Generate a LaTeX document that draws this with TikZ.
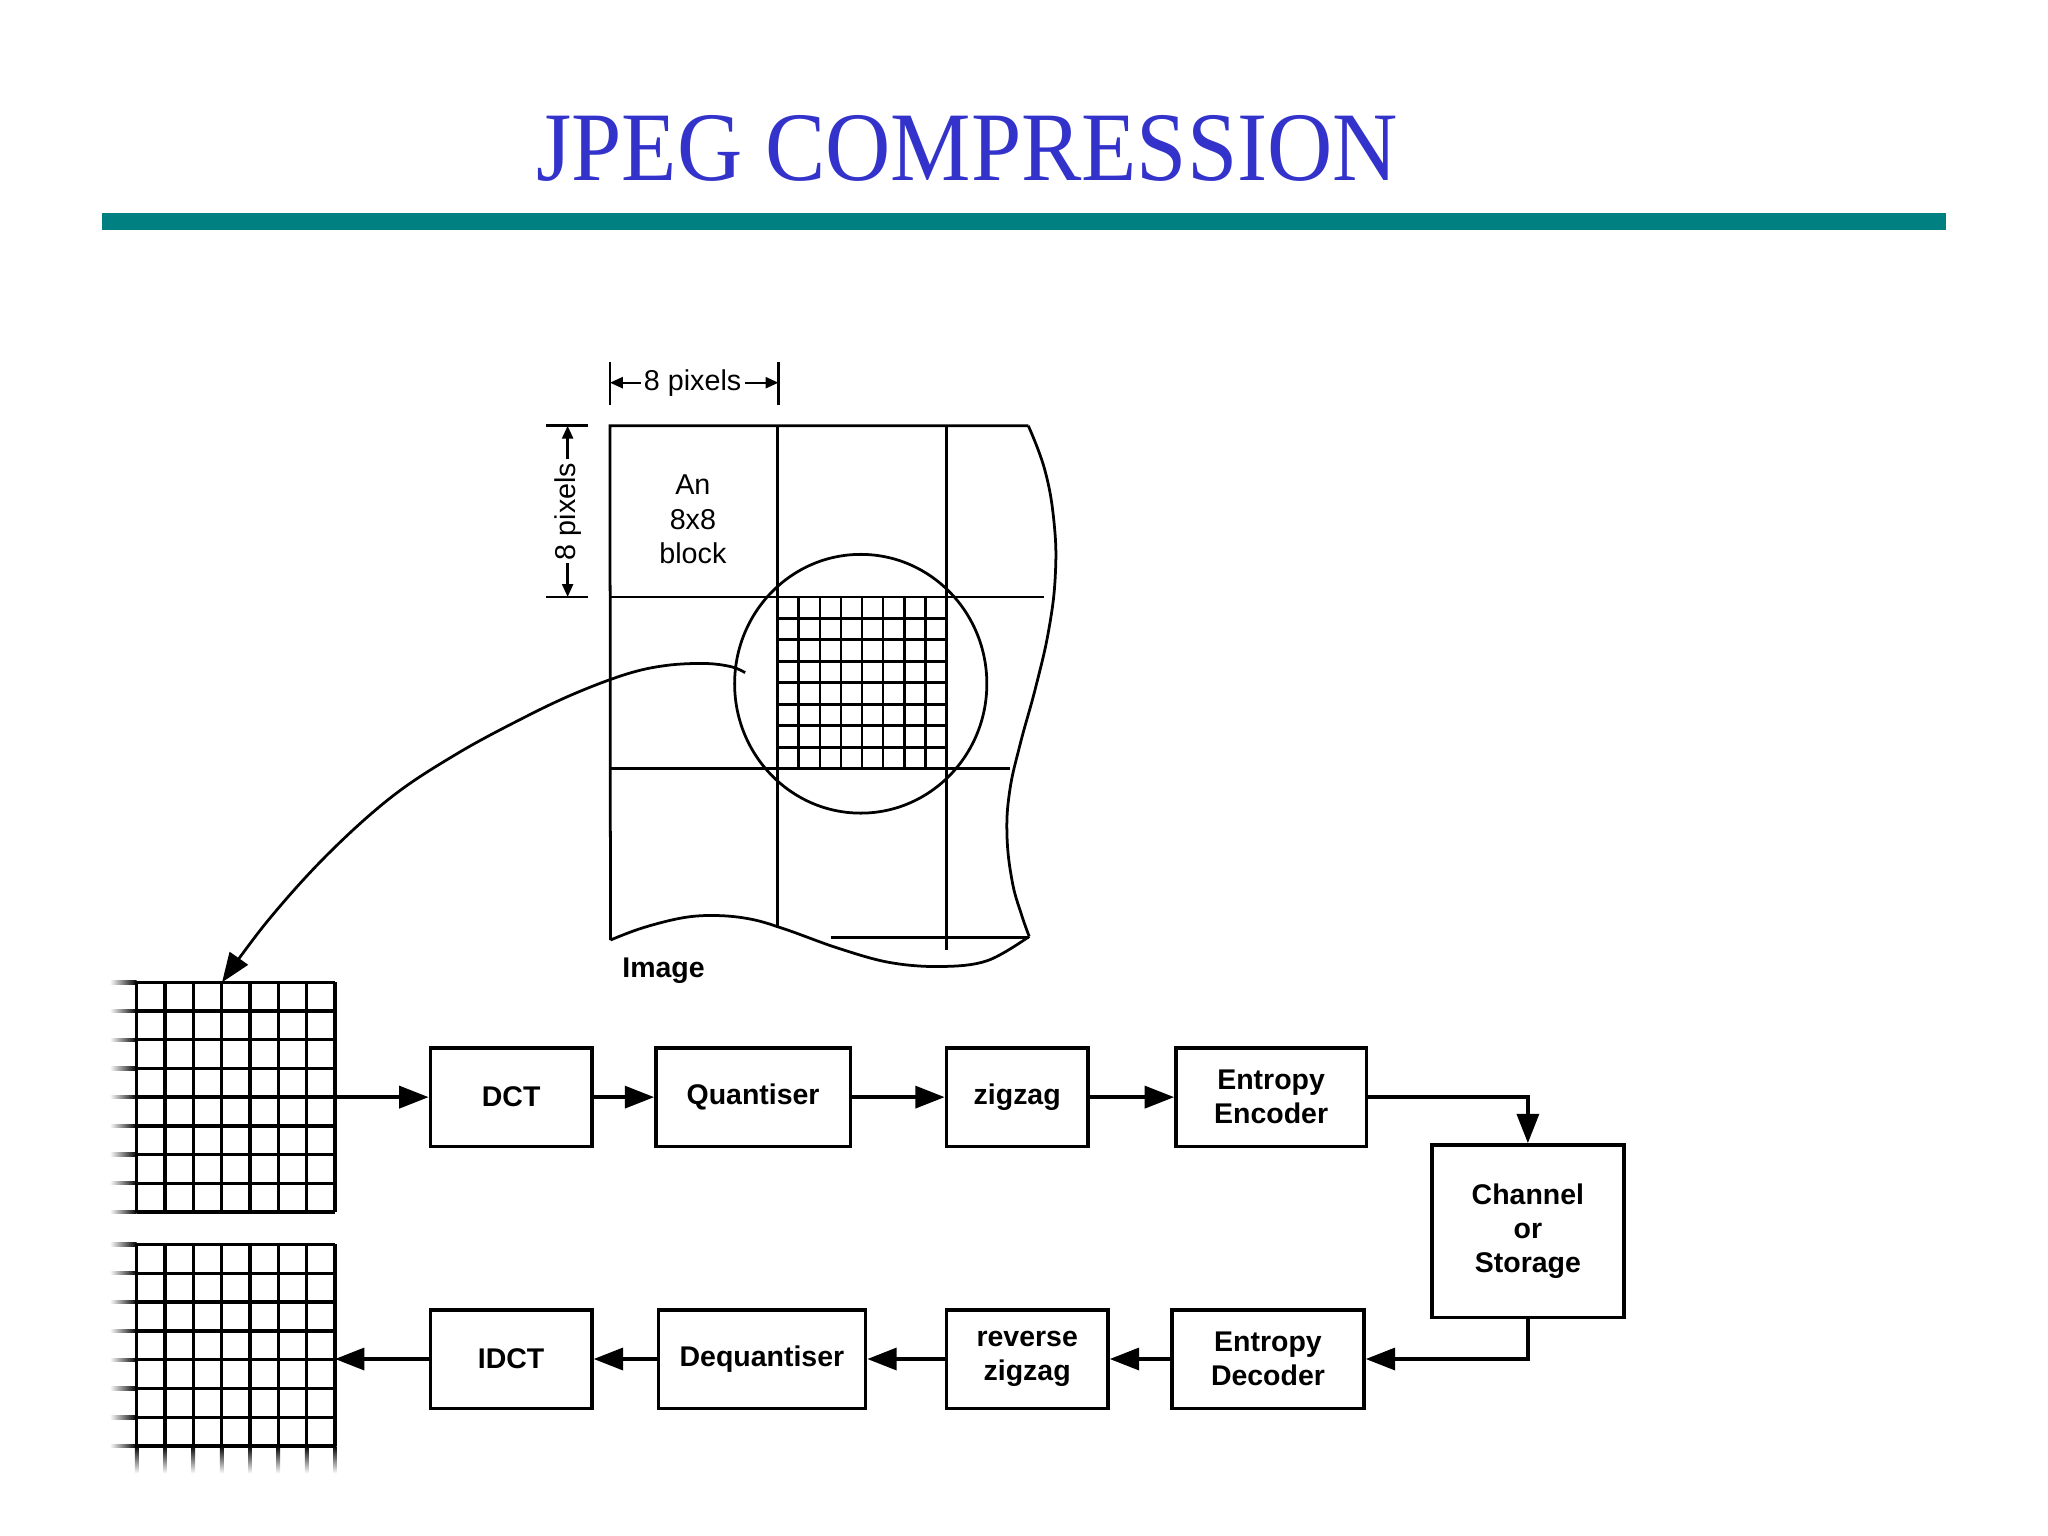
\documentclass[tikz,border=0pt]{standalone}
\usepackage{graphicx}
\usepackage{fontspec}
\newfontfamily\arialf{Liberation Sans}
\newfontfamily\timesf{Liberation Serif}
\usetikzlibrary{arrows.meta,shapes.geometric}
\definecolor{titleblue}{RGB}{51,51,204}
\definecolor{barteal}{RGB}{0,128,128}
\begin{document}
\begin{tikzpicture}[x=0.01cm,y=-0.01cm,
  blk/.style={draw, line width=0.75pt, inner sep=0pt, minimum height=0.753cm, align=center,
    font=\arialf\bfseries\fontsize{6.2pt}{7.45pt}\selectfont},
  lbl/.style={inner sep=1pt, align=center, font=\arialf\fontsize{6.25pt}{7.5pt}\selectfont},
  arr/.style={line width=0.75pt, -{Triangle[length=6.4pt,width=4.8pt]}},
  dimarr/.style={line width=0.5pt, -{Triangle[length=2.8pt,width=2.4pt]}},
  img/.style={line width=0.6pt},
  gridl/.style={line width=0.75pt}
]
\useasboundingbox (0,0) rectangle (1568,1176);

% title and bar
\node[anchor=base west, inner sep=0pt, text=titleblue, font=\timesf\fontsize{21.4pt}{24pt}\selectfont] (title) at (410,138) {\scalebox{0.92}[1]{JPEG COMPRESSION}};
\fill[barteal] (78,163) rectangle (1490,176);

% ---------- image with blocks ----------
\draw[img] (787.3,326) -- (467,326) -- (467.4,719.7);
\draw[img] plot[smooth, tension=0.7] coordinates {(787.3,326) (800,360) (807,400) (808,440) (803,482) (793,526) (781,570) (773,606) (771,640) (775,675) (782,700) (788,717)};
\draw[img] plot[smooth, tension=0.6] coordinates {(467.4,719.7) (492.3,710.3) (523.8,702.5) (550,701) (576.2,704) (602.5,711.9) (641.8,726) (681.1,736.9) (720.4,740) (756,735.5) (788,717)};
\draw[img] (636,718) -- (788,718);
\draw[img] (595.5,326) -- (595.5,710.5);
\draw[img] (724.5,326) -- (724.5,727.5);
\draw[img] (467,457) -- (799,457);
\draw[img] (467,588.5) -- (773,588.5);

% small 8x8 block grid
\foreach \k in {1,...,7}{
  \pgfmathsetmacro\xx{595.5+\k*16.125}
  \draw[img] (\xx,457) -- (\xx,588.5);
  \pgfmathsetmacro\yy{457+\k*16.4375}
  \draw[img] (595.5,\yy) -- (724.5,\yy);
}
\node[draw, img, ellipse, minimum width=1.93cm, minimum height=1.98cm, inner sep=0pt] (circ) at (659,523.5) {};

% labels on image
\node[lbl] (blocktxt) at (530.5,397.8) {An\\8x8\\block};
\node[lbl, font=\arialf\bfseries\fontsize{6.2pt}{7.4pt}\selectfont] (imgtxt) at (508,743) {Image};

% dimension: horizontal
\draw[img] (467,277.5) -- (467,310.3);
\draw[img] (596,277.5) -- (596,310.3);
\node[lbl, inner sep=0.5pt] (hp) at (530.3,293) {8 pixels};
\coordinate (hl) at (467,293);
\coordinate (hr) at (596,293);
\draw[dimarr] (hp.west) -- (hl);
\draw[dimarr] (hp.east) -- (hr);

% dimension: vertical
\draw[img] (418.4,326) -- (450.4,326);
\draw[img] (418.4,457) -- (450.4,457);
\node[lbl, rotate=90, inner sep=0.5pt] (vp) at (434.6,391.5) {8 pixels};
\coordinate (vt) at (434.6,326);
\coordinate (vb) at (434.6,457);
\draw[dimarr] (vp.east) -- (vt);
\draw[dimarr] (vp.west) -- (vb);

% ---------- left grids ----------
\foreach \j in {0,...,8}{
  \pgfmathsetmacro\yy{752.1+\j*21.975}
  \draw[gridl] (104.6,\yy) -- (256.5,\yy);
  \shade[left color=white, right color=black] (84,\yy-1.3) rectangle (104.6,\yy+1.3);
}
\foreach \k in {0,...,7}{
  \pgfmathsetmacro\xx{104.6+\k*21.7}
  \draw[gridl] (\xx,752.1) -- (\xx,927.9);
}
\foreach \j in {0,...,7}{
  \pgfmathsetmacro\yy{952.8+\j*22.06}
  \draw[gridl] (104.6,\yy) -- (256.5,\yy);
  \shade[left color=white, right color=black] (84,\yy-1.3) rectangle (104.6,\yy+1.3);
}
\foreach \k in {0,...,7}{
  \pgfmathsetmacro\xx{104.6+\k*21.7}
  \draw[gridl] (\xx,952.8) -- (\xx,1107.2);
  \shade[top color=black, bottom color=white] (\xx-1.3,1107.2) rectangle (\xx+1.3,1128);
}
\coordinate (gtop) at (170,752.1);
\coordinate (gA) at (256.5,840);
\coordinate (gB) at (256.5,1040.5);

% curved arrow from block to grid
\coordinate (cs) at (570.5,515);
\draw[arr, line width=0.6pt] plot[smooth, tension=0.6] coordinates {(cs) (560,510.5) (540,508) (510,509.5) (480,516) (440,531) (400,550) (350,577) (300,610) (250,655) (205,705) (gtop)};

% ---------- blocks ----------
\node[blk, minimum width=1.237cm] (dct) at (391.35,840) {DCT};
\node[blk, minimum width=1.488cm] (quant) at (576.6,840) {Quantiser};
\node[blk, minimum width=1.084cm] (zz) at (778.8,840) {zigzag};
\node[blk, minimum width=1.458cm] (ee) at (973.2,840) {Entropy\\Encoder};
\node[blk, minimum width=1.47cm, minimum height=1.322cm] (chan) at (1169.8,942.7) {Channel\\or\\Storage};
\node[blk, minimum width=1.237cm] (idct) at (391.35,1040.5) {IDCT};
\node[blk, minimum width=1.587cm] (deq) at (583.35,1040.5) {Dequantiser};
\node[blk, minimum width=1.237cm] (rz) at (786.45,1040.5) {reverse\\zigzag};
\node[blk, minimum width=1.47cm] (ed) at (970.8,1040.5) {Entropy\\Decoder};

% ---------- connectors ----------
\draw[arr] (gA) -- (dct.west);
\draw[arr] (dct.east) -- (quant.west);
\draw[arr] (quant.east) -- (zz.west);
\draw[arr] (zz.east) -- (ee.west);
\draw[arr] (ee.east) -| (chan.north);
\draw[arr] (chan.south) |- (ed.east);
\draw[arr] (ed.west) -- (rz.east);
\draw[arr] (rz.west) -- (deq.east);
\draw[arr] (deq.west) -- (idct.east);
\draw[arr] (idct.west) -- (gB);
\end{tikzpicture}
\end{document}
